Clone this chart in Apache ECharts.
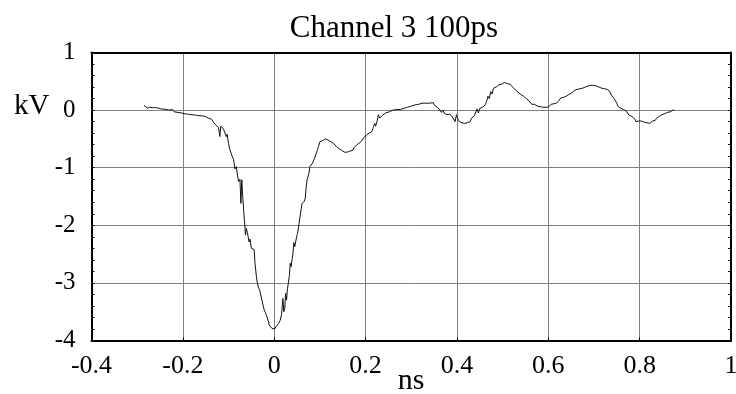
<!DOCTYPE html>
<html>
<head>
<meta charset="utf-8">
<script src="https://cdn.jsdelivr.net/npm/echarts@6/dist/echarts.min.js"></script>
<style>
html,body{margin:0;padding:0;background:#fff;}
#c{width:736px;height:394px;}
</style>
</head>
<body>
<div id="c"></div>
<script>
const chartTitle = 'Channel 3 100ps';
const xName = 'ns';
const yName = 'kV';
const xTicks = [-0.4, -0.2, 0, 0.2, 0.4, 0.6, 0.8, 1];
const yTicks = [-4, -3, -2, -1, 0, 1];

const timeNs = [
-0.285,-0.281,-0.277,-0.272,-0.267,-0.262,-0.257,-0.252,-0.247,-0.243,-0.239,-0.235,-0.231,-0.227,-0.223,-0.219,-0.215,-0.211,-0.207,-0.203,-0.199,-0.195,-0.190,-0.185,-0.180,-0.175,-0.170,-0.165,-0.160,-0.156,-0.152,-0.148,-0.144,-0.140,-0.137,-0.134,-0.131,-0.128,-0.125,-0.122,-0.119,-0.117,-0.114,-0.111,-0.108,-0.105,-0.103,-0.100,-0.097,-0.093,-0.089,-0.086,-0.083,-0.081,-0.078,-0.075,-0.073,-0.071,-0.069,-0.067,-0.065,-0.063,-0.061,-0.059,-0.057,-0.055,-0.053,-0.050,-0.047,-0.044,-0.042,-0.039,-0.037,-0.035,-0.032,-0.029,-0.027,-0.024,-0.022,-0.019,-0.016,-0.013,-0.011,-0.008,-0.005,-0.002,
0.001,0.004,0.007,0.010,0.013,0.016,0.019,0.021,0.023,0.025,0.027,0.029,0.031,0.033,0.035,0.037,0.039,0.041,0.043,0.045,0.047,0.049,0.051,0.053,0.055,0.057,0.059,0.061,0.063,0.066,0.068,0.070,0.072,0.074,0.076,0.078,0.081,0.084,0.087,0.090,0.092,0.095,0.097,0.100,0.103,0.106,0.109,0.112,0.115,0.118,0.121,0.124,0.127,0.130,0.133,0.136,0.139,0.142,0.145,0.148,0.151,0.154,0.157,0.160,0.163,0.166,0.169,0.172,0.175,0.178,0.181,0.184,0.187,0.190,0.193,0.196,0.199,0.202,0.205,0.208,0.211,0.214,0.217,0.220,0.222,0.225,0.228,0.231,0.234,0.237,0.240,0.244,0.248,0.252,0.256,0.260,0.264,0.268,0.272,0.276,0.280,0.284,0.288,0.292,0.296,0.300,0.304,0.308,0.312,0.316,0.320,0.324,0.328,0.332,0.336,0.340,0.344,0.348,0.351,0.354,0.357,0.360,0.363,0.366,0.369,0.372,0.375,0.378,0.381,0.384,0.387,0.390,0.393,0.396,0.399,0.402,0.405,0.408,0.411,0.414,0.417,0.420,0.423,0.426,0.429,0.432,0.435,0.438,0.441,0.444,0.447,0.450,0.453,0.456,0.459,0.462,0.465,0.468,0.471,0.474,0.477,0.480,0.483,0.486,0.489,0.492,0.495,0.498,0.501,0.504,0.507,0.510,0.513,0.516,0.519,0.522,0.525,0.528,0.531,0.534,0.537,0.540,0.543,0.546,0.549,0.552,0.555,0.558,0.561,0.564,0.567,0.570,0.573,0.576,0.579,0.582,0.585,0.588,0.591,0.594,0.597,0.600,0.603,0.606,0.609,0.612,0.615,0.618,0.621,0.624,0.627,0.630,0.633,0.636,0.639,0.642,0.645,0.648,0.651,0.654,0.657,0.660,0.663,0.666,0.669,0.672,0.675,0.678,0.681,0.684,0.687,0.690,0.693,0.696,0.699,0.702,0.705,0.708,0.711,0.714,0.717,0.720,0.723,0.726,0.729,0.732,0.735,0.738,0.741,0.744,0.747,0.750,0.753,0.756,0.759,0.762,0.765,0.768,0.771,0.774,0.777,0.780,0.783,0.786,0.789,0.792,0.795,0.798,0.801,0.804,0.807,0.810,0.813,0.816,0.819,0.822,0.825,0.828,0.831,0.834,0.837,0.840,0.843,0.846,0.849,0.852,0.855,0.858,0.861,0.864,0.867,0.870,0.873,0.876
];

const voltageKV = [
0.08,0.06,0.035,0.05,0.04,0.045,0.04,0.03,0.02,0.03,0.015,0.02,0.0,-0.01,0.01,-0.03,-0.02,-0.04,-0.045,-0.05,-0.06,-0.065,-0.07,-0.075,-0.08,-0.085,-0.09,-0.095,-0.10,-0.11,-0.105,-0.13,-0.14,-0.17,-0.16,-0.20,-0.19,-0.26,-0.24,-0.30,-0.46,-0.28,-0.30,-0.33,-0.36,-0.46,-0.42,-0.58,-0.69,-0.78,-0.86,-1.02,-0.98,-1.10,-1.24,-1.20,-1.62,-1.21,-1.50,-1.73,-1.94,-2.17,-2.05,-2.12,-2.20,-2.29,-2.24,-2.40,-2.38,-2.42,-2.66,-2.89,-3.00,-3.07,-3.12,-3.10,-3.30,-3.40,-3.47,-3.52,-3.59,-3.66,-3.73,-3.76,-3.79,-3.80,
-3.80,-3.76,-3.78,-3.70,-3.65,-3.55,-3.27,-3.50,-3.45,-3.18,-3.30,-3.10,-3.00,-2.89,-2.66,-2.72,-2.60,-2.49,-2.30,-2.37,-2.40,-2.20,-2.14,-2.05,-2.02,-1.82,-1.80,-1.62,-1.60,-1.58,-1.53,-1.33,-1.21,-1.18,-1.10,-0.98,-0.96,-0.92,-0.89,-0.80,-0.75,-0.68,-0.63,-0.55,-0.57,-0.53,-0.52,-0.50,-0.51,-0.52,-0.53,-0.55,-0.56,-0.58,-0.60,-0.63,-0.64,-0.67,-0.69,-0.70,-0.72,-0.73,-0.74,-0.73,-0.72,-0.71,-0.69,-0.70,-0.65,-0.63,-0.60,-0.62,-0.57,-0.55,-0.52,-0.48,-0.46,-0.43,-0.42,-0.40,-0.38,-0.37,-0.30,-0.23,-0.28,-0.20,-0.08,-0.14,-0.12,-0.09,-0.06,-0.05,-0.02,-0.03,-0.01,0.0,0.0,0.01,0.02,0.01,0.02,0.03,0.04,0.05,0.05,0.07,0.08,0.09,0.10,0.10,0.11,0.12,0.11,0.12,0.13,0.12,0.11,0.13,0.08,0.11,0.05,0.02,0.00,-0.04,0.0,-0.05,-0.03,-0.08,-0.05,-0.07,-0.10,-0.12,-0.15,-0.20,-0.08,-0.15,-0.20,-0.18,-0.22,-0.21,-0.23,-0.24,-0.22,-0.24,-0.20,-0.14,-0.16,-0.10,-0.12,0.02,-0.05,0.03,0.00,0.05,0.03,0.09,0.15,0.24,0.20,0.32,0.28,0.38,0.41,0.40,0.43,0.44,0.45,0.45,0.47,0.48,0.49,0.46,0.47,0.45,0.42,0.40,0.39,0.35,0.33,0.31,0.30,0.27,0.26,0.24,0.22,0.20,0.18,0.16,0.13,0.10,0.09,0.10,0.08,0.07,0.08,0.06,0.07,0.05,0.06,0.05,0.07,0.05,0.08,0.10,0.10,0.11,0.12,0.12,0.14,0.17,0.21,0.18,0.22,0.25,0.24,0.26,0.27,0.28,0.30,0.32,0.34,0.35,0.36,0.37,0.37,0.38,0.38,0.40,0.40,0.41,0.42,0.42,0.43,0.43,0.43,0.42,0.42,0.41,0.40,0.39,0.38,0.37,0.37,0.35,0.36,0.34,0.32,0.26,0.24,0.20,0.18,0.12,0.06,0.04,0.03,0.02,0.01,0.00,-0.02,-0.05,-0.09,-0.10,-0.11,-0.10,-0.15,-0.20,-0.19,-0.19,-0.20,-0.19,-0.20,-0.21,-0.20,-0.22,-0.21,-0.23,-0.20,-0.19,-0.17,-0.18,-0.14,-0.13,-0.11,-0.12,-0.08,-0.07,-0.06,-0.05,-0.04,-0.02,-0.03,-0.01,0.00,0.00
];

const seriesData = timeNs.map((t, i) => [t, voltageKV[i]]);
const FONT = '"Liberation Serif", "DejaVu Serif", serif';

const chart = echarts.init(document.getElementById('c'), null, {renderer: 'canvas'});
const frameLine = {show: true, onZero: false, lineStyle: {color: '#000', width: 2}};
chart.setOption({
  animation: false,
  backgroundColor: '#fff',
  title: {
    text: chartTitle,
    left: 389, top: 8, textAlign: 'center',
    textStyle: {fontFamily: FONT, fontSize: 31, fontWeight: 'normal', color: '#000'}
  },
  graphic: [{
    type: 'text', left: 14, top: 92,
    style: {text: yName, fontFamily: FONT, fontSize: 29, fill: '#000'}
  }, {
    type: 'text', x: 411, y: 381,
    style: {text: xName, fontFamily: FONT, fontSize: 30, fill: '#000', align: 'center', verticalAlign: 'middle'}
  }],
  grid: {left: 91.5, right: 5, top: 52.5, bottom: 53.5, containLabel: false, outerBoundsMode: 'none'},
  xAxis: [{
    type: 'value', min: xTicks[0], max: xTicks[xTicks.length - 1], interval: 0.2,
    position: 'bottom',
    axisLine: frameLine,
    axisTick: {show: true, inside: true, length: 3, lineStyle: {color: '#000'}},
    axisLabel: {fontFamily: FONT, fontSize: 26, color: '#000', margin: 13,
      formatter: v => String(Math.round(v * 10) / 10)},
    splitLine: {show: true, lineStyle: {color: '#808080', width: 1}}
  }, {
    type: 'value', min: xTicks[0], max: xTicks[xTicks.length - 1], interval: 0.2,
    position: 'top',
    axisLine: frameLine, axisTick: {show: false}, axisLabel: {show: false}, splitLine: {show: false}
  }],
  yAxis: [{
    type: 'value', min: yTicks[0], max: yTicks[yTicks.length - 1], interval: 1,
    position: 'left',
    axisLine: frameLine,
    axisTick: {show: true, inside: true, length: 3, lineStyle: {color: '#000'}},
    minorTick: {show: true, splitNumber: 5, length: 3, lineStyle: {color: '#000'}},
    axisLabel: {fontFamily: FONT, fontSize: 25, color: '#000', margin: 16},
    splitLine: {show: true, lineStyle: {color: '#808080', width: 1}}
  }, {
    type: 'value', min: yTicks[0], max: yTicks[yTicks.length - 1], interval: 1,
    position: 'right',
    axisLine: frameLine,
    axisTick: {show: true, inside: true, length: 3, lineStyle: {color: '#000'}},
    minorTick: {show: true, splitNumber: 5, length: 3, lineStyle: {color: '#000'}},
    axisLabel: {show: false},
    splitLine: {show: false}
  }],
  series: [{
    type: 'line', xAxisIndex: 0, yAxisIndex: 0,
    data: seriesData, showSymbol: false, symbol: 'none',
    lineStyle: {color: '#111', width: 1}
  }]
});
</script>
</body>
</html>
